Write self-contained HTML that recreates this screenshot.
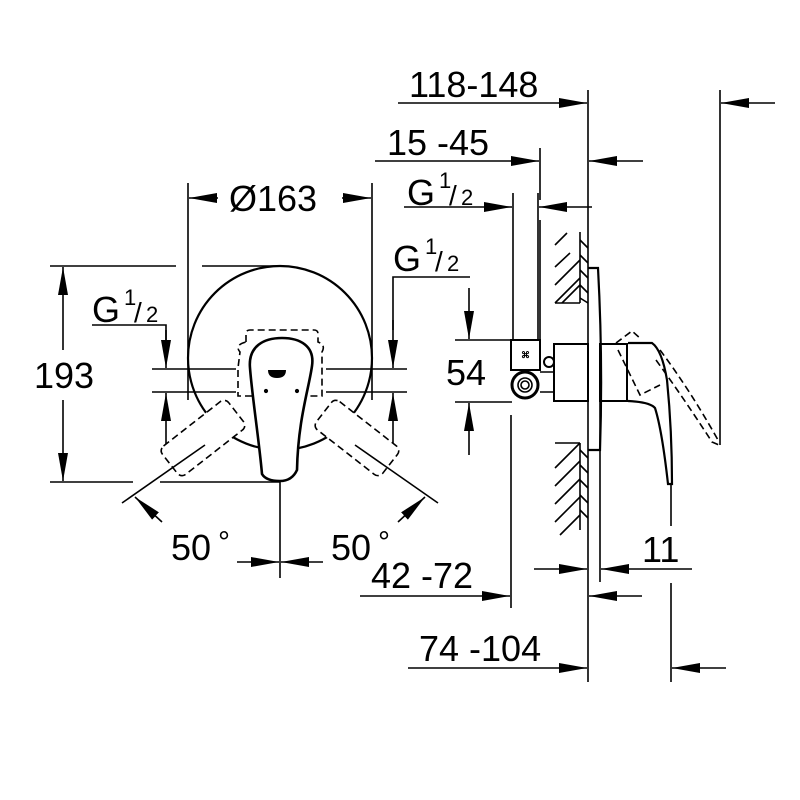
<!DOCTYPE html>
<html><head><style>html,body{margin:0;padding:0;background:#fff}svg{display:block}</style></head>
<body>
<svg width="800" height="800" viewBox="0 0 800 800" xmlns="http://www.w3.org/2000/svg" font-family="Liberation Sans, sans-serif" fill="none" stroke="#000" stroke-width="1.6">
<defs>
<marker id="a" viewBox="0 0 28 10" refX="28" refY="5" markerWidth="28" markerHeight="10" markerUnits="userSpaceOnUse" orient="auto"><path d="M0,0L28,5L0,10z" fill="#000" stroke="none"/></marker>
</defs>
<g stroke-width="1.6">
<!-- ===== LEFT VIEW ===== -->
<line x1="188" y1="183" x2="188" y2="400"/>
<line x1="372" y1="183" x2="372" y2="400"/>
<line x1="218" y1="198" x2="189" y2="198" marker-end="url(#a)"/>
<line x1="342" y1="198" x2="371" y2="198" marker-end="url(#a)"/>
<line x1="50" y1="266" x2="176" y2="266"/>
<line x1="202" y1="266" x2="282" y2="266"/>
<line x1="50" y1="482" x2="133" y2="482"/>
<line x1="160" y1="482" x2="280" y2="482"/>
<line x1="63" y1="350" x2="63" y2="267" marker-end="url(#a)"/>
<line x1="63" y1="400" x2="63" y2="481" marker-end="url(#a)"/>
<circle cx="280" cy="358" r="92" stroke-width="2.2"/>
<polyline points="92,325 166,325 166,340" />
<line x1="166" y1="330" x2="166" y2="368" marker-end="url(#a)"/>
<line x1="166" y1="447" x2="166" y2="393" marker-end="url(#a)"/>
<line x1="152" y1="369" x2="236" y2="369"/>
<line x1="152" y1="392" x2="236" y2="392"/>
<line x1="326" y1="369" x2="407" y2="369"/>
<line x1="326" y1="392" x2="407" y2="392"/>
<polyline points="470,277 393,277 393,330"/>
<line x1="393" y1="320" x2="393" y2="368" marker-end="url(#a)"/>
<line x1="393" y1="447" x2="393" y2="393" marker-end="url(#a)"/>
<g stroke-dasharray="7,4" fill="#fff" stroke-width="1.6">
<rect x="-42" y="-18" width="84" height="36" rx="6" transform="translate(203,438) rotate(-38)"/>
<rect x="-42" y="-18" width="84" height="36" rx="6" transform="translate(357,438) rotate(38)"/>
<path d="M246,342 L246,334 Q246,330 250,330 L314,330 Q318,330 318,334 L318,342 Q326,345 322,352 L322,368 L322,396 L300,396 Q280,402 260,396 L238,396 L238,368 L240,352 Q234,345 246,342Z" fill="none"/>
</g>
<line x1="205" y1="445" x2="122" y2="503"/>
<line x1="355" y1="445" x2="438" y2="503"/>
<line x1="162" y1="522" x2="135" y2="497" marker-end="url(#a)"/>
<line x1="398" y1="522" x2="425" y2="497" marker-end="url(#a)"/>
<line x1="280" y1="482" x2="280" y2="578"/>
<line x1="237" y1="562" x2="279" y2="562" marker-end="url(#a)"/>
<line x1="323" y1="562" x2="281" y2="562" marker-end="url(#a)"/>
<path d="M262,474 C259,440 252,395 250,368 C248,346 264,338 282,338 C300,338 315,346 312,366 C309,388 298,420 297,470 Q292,481 280,481 Q266,481 262,474Z" fill="#fff" stroke-width="2.6"/>
<path d="M268,370 L286,370 Q286,378 277,378 Q268,378 268,370Z" fill="#000" stroke="none"/>
<circle cx="266" cy="391" r="1.3" fill="#000"/>
<circle cx="297" cy="391" r="1.3" fill="#000"/>
</g>
<g fill="#000" stroke="none" font-size="36">
<text x="229" y="211">Ø163</text>
<text x="34" y="388">193</text>
<text x="92" y="322">G</text><text x="124" y="305" font-size="22">1</text><text x="134" y="322" font-size="28">/</text><text x="146" y="322" font-size="22">2</text>
<text x="393" y="271">G</text><text x="425" y="254" font-size="22">1</text><text x="435" y="271" font-size="28">/</text><text x="447" y="271" font-size="22">2</text>
<text x="407" y="205">G</text><text x="439" y="188" font-size="22">1</text><text x="449" y="205" font-size="28">/</text><text x="461" y="205" font-size="22">2</text>
<text x="171" y="560">50</text><text x="218" y="552" font-size="30">°</text>
<text x="331" y="560">50</text><text x="378" y="552" font-size="30">°</text>
<text x="409" y="97">118-148</text>
<text x="387" y="155">15 -45</text>
<text x="446" y="385">54</text>
<text x="642" y="562">11</text>
<text x="371" y="588">42 -72</text>
<text x="419" y="661">74 -104</text>
</g>
<!-- ===== RIGHT VIEW ===== -->
<g stroke-width="1.6">
<line x1="398" y1="103" x2="587" y2="103" marker-end="url(#a)"/>
<line x1="775" y1="103" x2="721" y2="103" marker-end="url(#a)"/>
<line x1="588" y1="90" x2="588" y2="682"/>
<line x1="720" y1="90" x2="720" y2="445"/>
<line x1="375" y1="161" x2="539" y2="161" marker-end="url(#a)"/>
<line x1="643" y1="161" x2="589" y2="161" marker-end="url(#a)"/>
<line x1="540" y1="148" x2="540" y2="200"/>
<line x1="404" y1="207" x2="512" y2="207" marker-end="url(#a)"/>
<line x1="592" y1="207" x2="539" y2="207" marker-end="url(#a)"/>
<line x1="513" y1="193" x2="513" y2="340"/>
<line x1="538" y1="193" x2="538" y2="340"/>
<line x1="540" y1="220" x2="540" y2="340"/>
<line x1="455" y1="340" x2="512" y2="340"/>
<line x1="455" y1="402" x2="512" y2="402"/>
<line x1="469" y1="288" x2="469" y2="339" marker-end="url(#a)"/>
<line x1="469" y1="455" x2="469" y2="403" marker-end="url(#a)"/>
<line x1="555" y1="303" x2="580" y2="303"/>
<line x1="580" y1="232" x2="580" y2="303"/>
<path d="M555,267 L570,253 M555,285 L580,260 M555,303 L580,278 M562,303 L580,285 M580,240 L588,248 M580,255 L588,263 M580,270 L588,278 M580,285 L588,293 M580,298 L588,303"/>
<path d="M555,245 L567,233"/>
<line x1="555" y1="443" x2="580" y2="443"/>
<line x1="580" y1="443" x2="580" y2="530"/>
<path d="M555,468 L580,443 M555,486 L580,461 M555,504 L580,479 M555,522 L580,497 M560,535 L580,515 M580,450 L588,458 M580,465 L588,473 M580,480 L588,488 M580,495 L588,503 M580,510 L588,518"/>
<path d="M588,268 L598,268 Q603,360 600,450 L588,450" stroke-width="2.2"/>
<rect x="554" y="344" width="34" height="57" stroke-width="2"/>
<rect x="600" y="344" width="27" height="57" stroke-width="2"/>
<line x1="628" y1="344" x2="628" y2="401"/>
<rect x="511" y="340" width="29" height="30" stroke-width="2"/>
<text x="521" y="358" font-size="9" fill="#000" stroke="none" font-weight="bold">⌘</text>
<path d="M540,372 L554,372 M540,392 L554,392"/>
<circle cx="525" cy="385" r="13" stroke-width="3"/>
<circle cx="525" cy="385" r="7"/>
<circle cx="525" cy="385" r="4"/>
<circle cx="549" cy="362" r="5" stroke-width="2"/>
<path d="M628,343 L652,343 Q662,350 667,380 Q672,430 672,484 L668,484 Q662,430 655,408 Q650,402 628,401" stroke-width="2.2" fill="#fff"/>
<g stroke-dasharray="7,4">
<path d="M616,343 L632,331 L641,339"/>
<path d="M618,350 L640,395 L660,385"/>
<path d="M660,350 Q690,390 718,440"/>
<path d="M656,360 Q685,400 712,442 L719,445"/>
</g>
<line x1="600" y1="401" x2="600" y2="582"/>
<line x1="534" y1="569" x2="587" y2="569" marker-end="url(#a)"/>
<line x1="692" y1="569" x2="601" y2="569" marker-end="url(#a)"/>
<line x1="671" y1="484" x2="671" y2="526"/>
<line x1="671" y1="583" x2="671" y2="682"/>
<line x1="511" y1="415" x2="511" y2="608"/>
<line x1="360" y1="596" x2="510" y2="596" marker-end="url(#a)"/>
<line x1="642" y1="596" x2="589" y2="596" marker-end="url(#a)"/>
<line x1="408" y1="668" x2="587" y2="668" marker-end="url(#a)"/>
<line x1="726" y1="668" x2="672" y2="668" marker-end="url(#a)"/>
</g>
</svg>
</body></html>
